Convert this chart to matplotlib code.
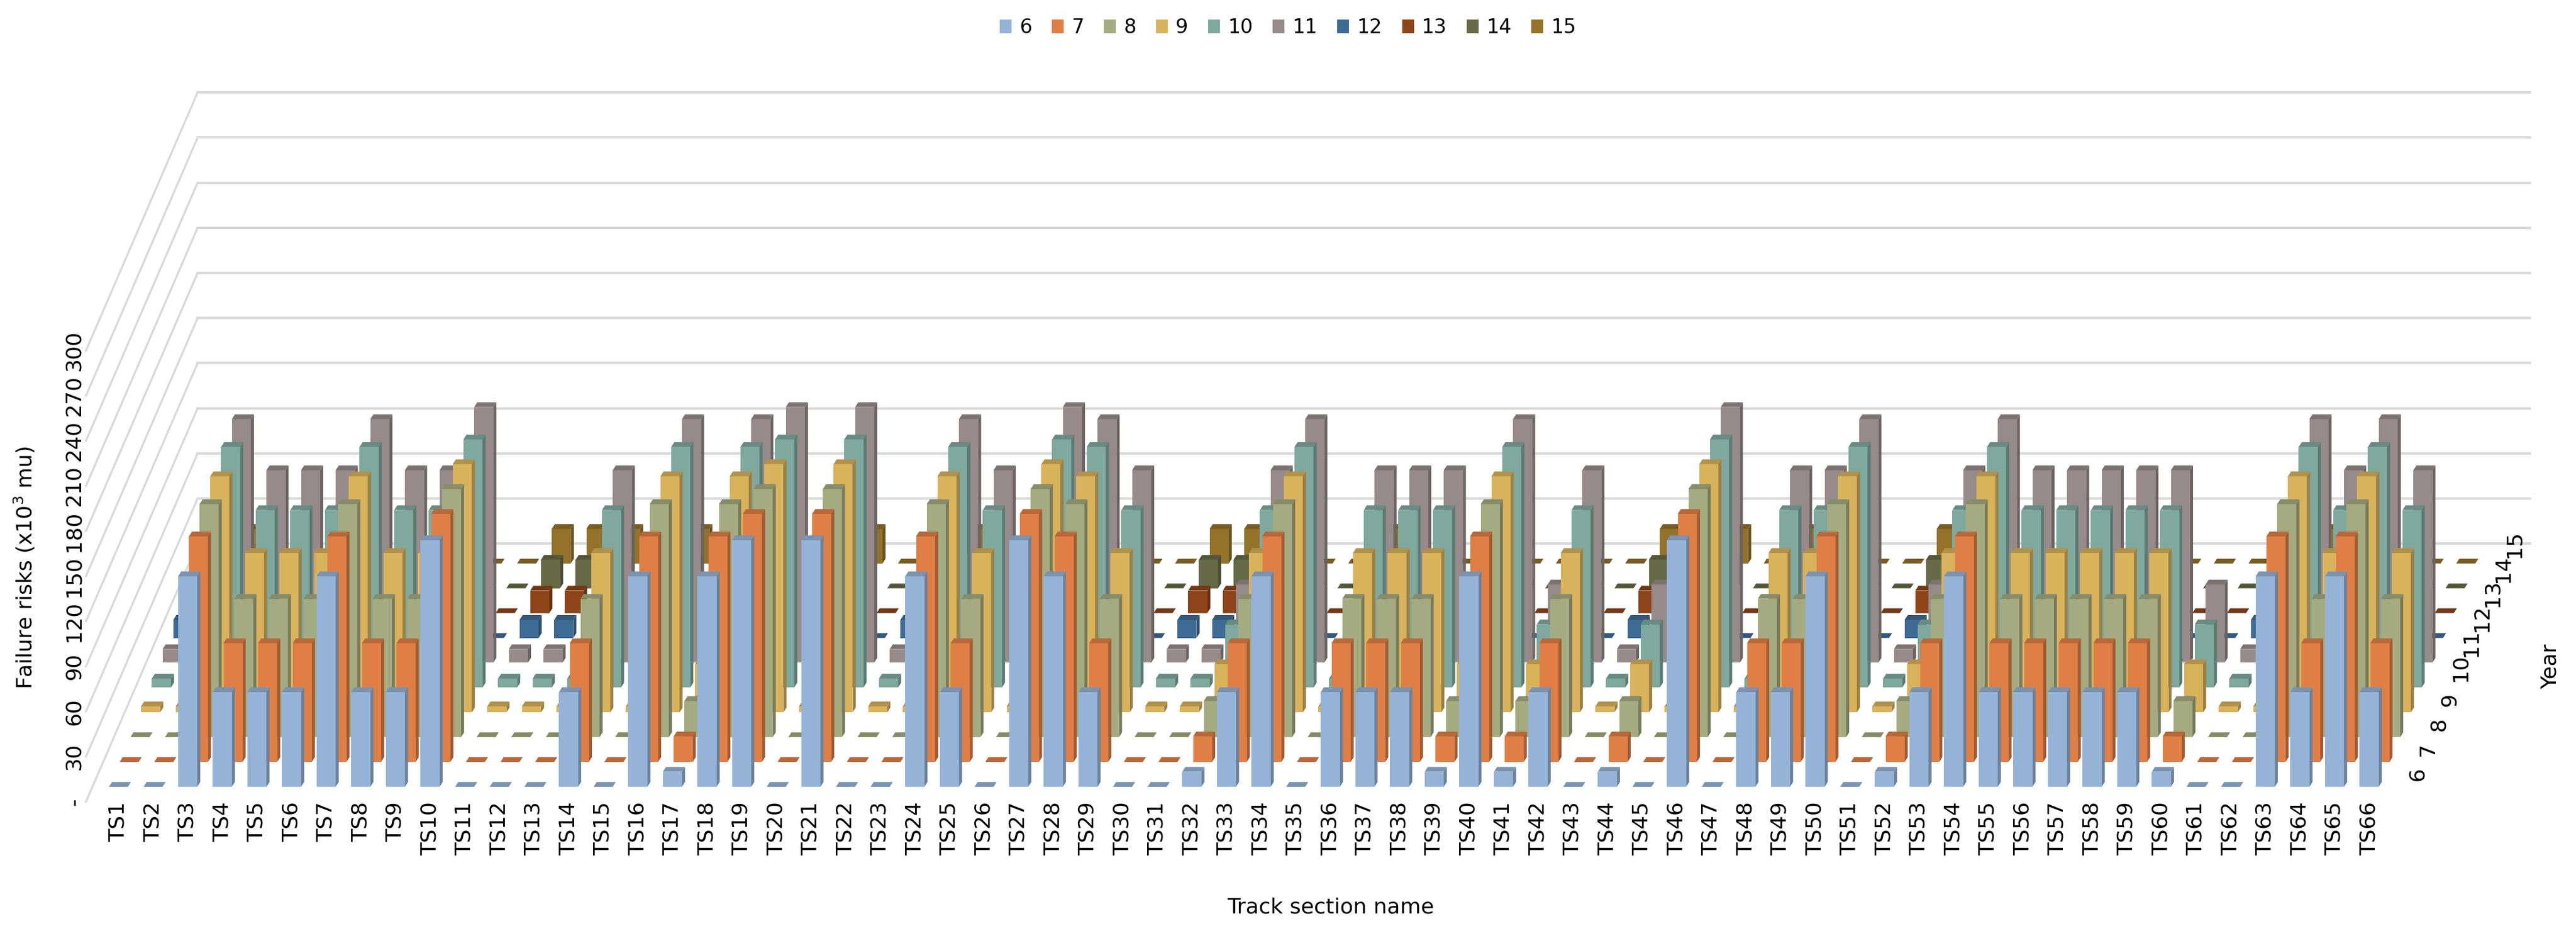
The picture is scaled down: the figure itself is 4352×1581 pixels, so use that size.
import numpy as np
import matplotlib
matplotlib.use("Agg")
import matplotlib.pyplot as plt
from matplotlib.patches import Patch
from matplotlib.colors import to_rgb

sections = [f"TS{i}" for i in range(1, 67)]
years = ["6", "7", "8", "9", "10", "11", "12", "13", "14", "15"]

# profile of each track section (letter) -> values per year (x10^3 mu)
section_type = list("ZZASSSASSB" "ZZZSZATABZ" "BZZASZBASZ" "ZTSAZSSSTA"
                    "TSZTZBZSSA" "ZTSASSSSST" "ZZASAS")
profiles = {
    "Z": [0, 0, 0, 4, 6, 9, 12, 15, 19, 23],
    "T": [10, 17, 24, 32, 42, 52, 0, 0, 0, 0],
    "S": [63, 79, 92, 106, 118, 128, 0, 0, 0, 0],
    "A": [140, 150, 155, 157, 160, 162, 0, 0, 0, 0],
    "B": [164, 165, 165, 165, 165, 170, 0, 0, 0, 0],
}
colors = ["#95B3D7", "#E07F45", "#A5AB80", "#D9B25C", "#7FA99E",
          "#968B8A", "#3E6B94", "#8E4419", "#666A46", "#94722A"]
zticks = [0, 30, 60, 90, 120, 150, 180, 210, 240, 270, 300]
zticklabels = ["-", "30", "60", "90", "120", "150", "180", "210", "240", "270", "300"]

values = np.array([profiles[t] for t in section_type])  # (66, 10)

# oblique projection parameters (style)
ROW_DX, ROW_DY = 0.31, 16.5      # shift per year row
BAR_W = 0.55
DEP_DX, DEP_DY = 0.09, 3.2       # visible depth of a bar
W_PX, H_PX = 4352, 1581
X0_PX, XSTEP = 200, 58.5          # TS1 position, px per section
Y0_PX, YSCALE = 1329, 2.54        # zero line of front row, px per unit

fig = plt.figure(figsize=(W_PX / 100, H_PX / 100), dpi=100)
xlim = (-3.0, 70.0)
ylim = (-95.0, 500.0)
left = (X0_PX + xlim[0] * XSTEP) / W_PX
right = (X0_PX + xlim[1] * XSTEP) / W_PX
bottom = (H_PX - (Y0_PX - ylim[0] * YSCALE)) / H_PX
top = (H_PX - (Y0_PX - ylim[1] * YSCALE)) / H_PX
ax = fig.add_axes([left, bottom, right - left, top - bottom])
ax.set_xlim(*xlim)
ax.set_ylim(*ylim)
ax.axis("off")

def shade(c, f):
    r, g, b = to_rgb(c)
    return (r * f, g * f, b * f)

# walls / gridlines
n_rows = len(years)
fx, fy = -0.75 - 0.6 * ROW_DX, -0.6 * ROW_DY
bx, by = -0.75 + (n_rows - 0.2) * ROW_DX, (n_rows - 0.2) * ROW_DY
x_end = len(sections) - 1 + 1.6 + (n_rows - 0.2) * ROW_DX
for z, lab in zip(zticks, zticklabels):
    ax.plot([fx, bx], [z + fy, z + by], color="#d9d9d9", lw=2.5, zorder=1)
    ax.plot([bx, x_end], [z + by, z + by], color="#d9d9d9", lw=3, zorder=1)
    ax.text(fx - 0.35, z + fy, lab, rotation=90, ha="center", va="center", fontsize=26)

# bars, back rows first
zo = 2
for j in range(n_rows - 1, -1, -1):
    ox, oy = j * ROW_DX, j * ROW_DY
    c = colors[j]
    for i in range(len(sections)):
        v = values[i, j]
        x0 = i - BAR_W / 2 + ox
        x1 = i + BAR_W / 2 + ox
        b, t = oy, oy + v
        ax.fill([x1, x1 + DEP_DX, x1 + DEP_DX, x1], [b, b + DEP_DY, t + DEP_DY, t],
                color=shade(c, 0.72), lw=0, zorder=zo)
        ax.fill([x0, x1, x1, x0], [b, b, t, t], color=c, lw=0, zorder=zo)
        ax.fill([x0, x1, x1 + DEP_DX, x0 + DEP_DX], [t, t, t + DEP_DY, t + DEP_DY],
                color=shade(c, 0.82), lw=0, zorder=zo)
        zo += 1
    ax.text(len(sections) - 1 + 1.1 + ox, oy + 4, years[j], rotation=90,
            ha="left", va="bottom", fontsize=26)

for i, s in enumerate(sections):
    ax.text(i, -10, s, rotation=90, ha="center", va="top", fontsize=26)

ax.text(35, -80, "Track section name", ha="center", va="center", fontsize=26)
fig.text(15 * 2.78 / W_PX, 1 - 345 * 2.78 / H_PX, "Failure risks (x10$^3$ mu)",
         rotation=90, ha="center", va="center", fontsize=26)
fig.text(1550 * 2.78 / W_PX, 1 - 405 * 2.78 / H_PX, "Year",
         rotation=90, ha="center", va="center", fontsize=26)

handles = [Patch(facecolor=c, label=y) for c, y in zip(colors, years)]
fig.legend(handles=handles, loc="upper center", ncol=10, fontsize=24, frameon=False,
           bbox_to_anchor=(0.5, 1.0), handlelength=0.6, handleheight=0.7,
           columnspacing=1.0, handletextpad=0.4)

fig.savefig("out.png", dpi=100)
